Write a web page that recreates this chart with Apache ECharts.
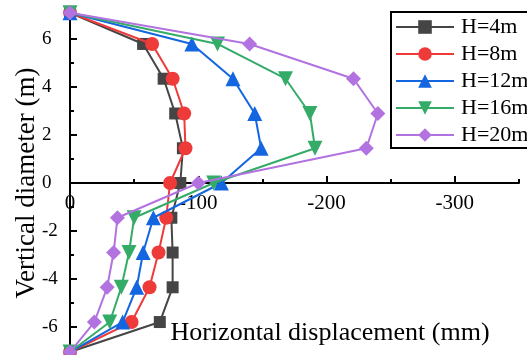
<!DOCTYPE html>
<html>
<head>
<meta charset="utf-8">
<script src="https://cdn.jsdelivr.net/npm/echarts@6/dist/echarts.min.js"></script>
<style>
html,body{margin:0;padding:0;background:#fff;}
#c{width:527px;height:355px;}
</style>
</head>
<body>
<div id="c"></div>
<script>
// Data
const depth = [7.1, 5.8, 4.35, 2.9, 1.45, 0, -1.45, -2.9, -4.35, -5.8, -7.05];
const seriesNames = ['H=4m', 'H=8m', 'H=12m', 'H=16m', 'H=20m'];
const h4  = [0, -57, -73, -82, -88, -86, -79, -80, -80, -70, 0];
const h8  = [0, -64, -80, -89, -90, -78, -75, -69, -62, -48, 0];
const h12 = [0, -95, -127, -144, -149, -118, -65, -57, -52, -41, 0];
const h16 = [0, -115, -168, -187, -191, -112, -50, -46, -40, -31, 0];
const h20 = [0, -140, -221, -240, -231, -100, -37, -34, -29, -19, 0];
const xMajorTicks = [0, -100, -200, -300];
const xMinorTicks = [-50, -150, -250, -350];
const yMajorTicks = [-6, -4, -2, 0, 2, 4, 6];
const yMinorTicks = [-7, -5, -3, -1, 1, 3, 5, 7];

const FONT = "'Liberation Serif','Times New Roman',serif";
const colors = ['#454545', '#ef3a3a', '#1466e0', '#35ab68', '#b273e0'];
const symbols = ['rect', 'circle', 'triangle', 'triangle', 'diamond'];
const symRot = [0, 0, 0, 180, 0];
const symSize = [12, 14, 15, 15, 15];
const values = [h4, h8, h12, h16, h20];

const chart = echarts.init(document.getElementById('c'), null, {renderer: 'canvas'});
const axisLineStyle = {color: '#000', width: 2};

const option = {
  animation: false,
  backgroundColor: '#fff',
  grid: {left: 70, right: 8, top: 8, height: 350, containLabel: false, outerBoundsMode: 'none'},
  legend: {
    orient: 'vertical',
    left: 391, top: 12,
    itemWidth: 58, itemHeight: 17, itemGap: 5,
    padding: [4, 40, 2, 4],
    backgroundColor: '#fff',
    borderColor: '#000', borderWidth: 2,
    textStyle: {fontFamily: FONT, fontSize: 22, color: '#000', lineHeight: 22, padding: [0, 0, 0, 2]},
    data: seriesNames
  },
  xAxis: [{
    type: 'value', inverse: true, min: -350, max: 0, position: 'bottom',
    name: 'Horizontal displacement (mm)', nameLocation: 'middle', nameGap: -38, nameMoveOverlap: false,
    nameTextStyle: {fontFamily: FONT, fontSize: 26, color: '#000', padding: [0, 0, 0, 71]},
    axisLine: {show: true, onZero: true, onZeroAxisIndex: 0, lineStyle: axisLineStyle},
    axisTick: {show: true, inside: true, length: 7, lineStyle: axisLineStyle, customValues: xMajorTicks},
    axisLabel: {show: true, customValues: xMajorTicks, fontFamily: FONT, fontSize: 21, color: '#000', margin: -165, hideOverlap: false},
    splitLine: {show: false}
  }, {
    type: 'value', inverse: true, min: -350, max: 0, position: 'bottom',
    axisLine: {show: false, onZero: true, onZeroAxisIndex: 0},
    axisTick: {show: true, inside: true, length: 4, lineStyle: axisLineStyle, customValues: xMinorTicks},
    axisLabel: {show: false},
    splitLine: {show: false}
  }],
  yAxis: [{
    type: 'value', min: -7.3, max: 7.3, position: 'left',
    name: 'Vertical diameter (m)', nameLocation: 'middle', nameGap: 30, nameRotate: 90, nameMoveOverlap: false,
    nameTextStyle: {fontFamily: FONT, fontSize: 27, color: '#000'},
    axisLine: {show: true, onZero: false, lineStyle: axisLineStyle},
    axisTick: {show: true, inside: true, length: 7, lineStyle: axisLineStyle, customValues: yMajorTicks},
    axisLabel: {show: true, customValues: yMajorTicks, fontFamily: FONT, fontSize: 19, color: '#000', margin: 28, align: 'left'},
    splitLine: {show: false}
  }, {
    type: 'value', min: -7.3, max: 7.3, position: 'left',
    axisLine: {show: false, onZero: false},
    axisTick: {show: true, inside: true, length: 4, lineStyle: axisLineStyle, customValues: yMinorTicks},
    axisLabel: {show: false},
    splitLine: {show: false}
  }],
  series: seriesNames.map((name, i) => ({
    name: name,
    type: 'line',
    xAxisIndex: 0, yAxisIndex: 0,
    data: values[i].map((v, k) => [v, depth[k]]),
    symbol: symbols[i],
    symbolRotate: symRot[i],
    symbolSize: symSize[i],
    showAllSymbol: true,
    clip: false,
    color: colors[i],
    lineStyle: {color: colors[i], width: 2},
    itemStyle: {color: colors[i]},
    z: 2 + i
  }))
};
chart.setOption(option);
</script>
</body>
</html>
